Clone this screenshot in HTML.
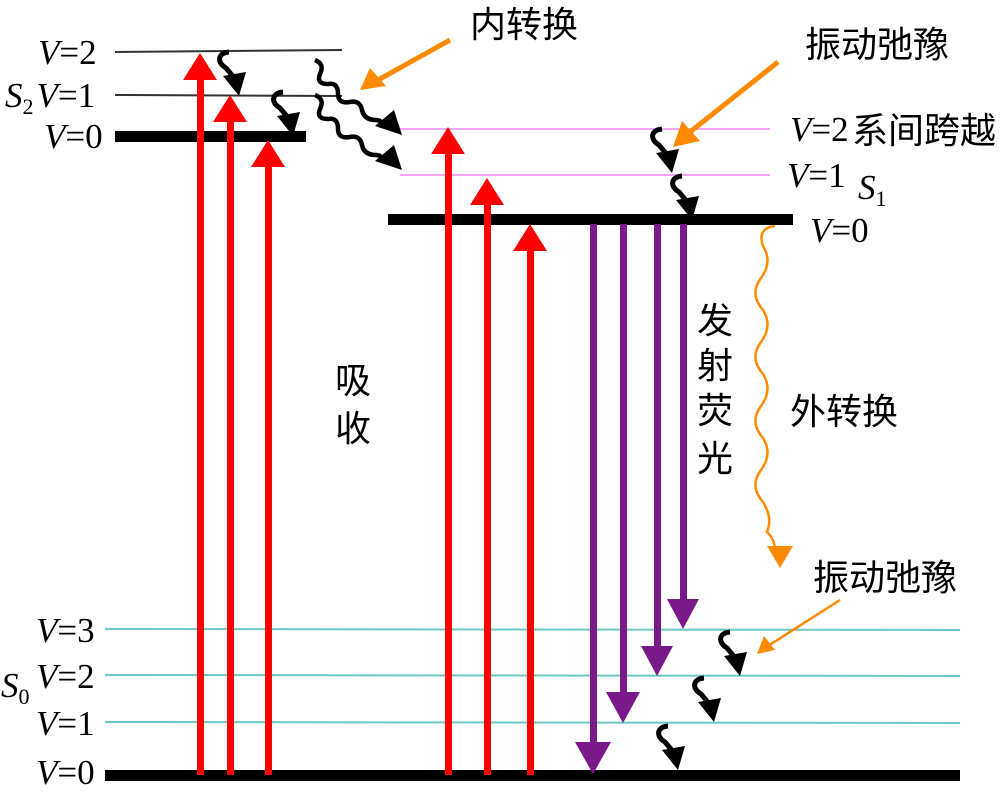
<!DOCTYPE html>
<html><head><meta charset="utf-8"><style>
html,body{margin:0;padding:0;background:#fff;}
svg{display:block;}
.v{font-family:"Liberation Serif",serif;font-size:35px;fill:#000;}
.c{font-family:"Liberation Sans","Noto Sans CJK SC",sans-serif;font-size:36px;fill:#000;}
</style></head><body>
<svg width="1000" height="796" viewBox="0 0 1000 796" xmlns="http://www.w3.org/2000/svg">
<defs>
<g id="sq">
<path d="M7,0 C-5,1 -5,11 4,16 L14,28" stroke="#000" stroke-width="5" fill="none"/>
<polygon points="1,24 24,20 17,44" fill="#000"/>
</g>
</defs>
<line x1="115" y1="52" x2="342" y2="50" stroke="#333" stroke-width="2"/>
<line x1="115" y1="95" x2="342" y2="96" stroke="#333" stroke-width="2"/>
<rect x="115" y="131" width="191" height="11" fill="#000"/>
<line x1="400" y1="129" x2="770" y2="129" stroke="#f4a6f4" stroke-width="2"/>
<line x1="400" y1="175" x2="770" y2="175" stroke="#f4a6f4" stroke-width="2"/>
<rect x="388" y="214" width="405" height="11" fill="#000"/>
<line x1="105" y1="629" x2="960" y2="630" stroke="#6cc8c4" stroke-width="2"/>
<line x1="105" y1="675" x2="960" y2="676" stroke="#6cc8c4" stroke-width="2"/>
<line x1="105" y1="722" x2="960" y2="723" stroke="#6cc8c4" stroke-width="2"/>
<rect x="105" y="770" width="855" height="11" fill="#000"/>
<g fill="#ff0000">
<rect x="197" y="75" width="7" height="700"/><polygon points="183,80 217,80 200,53"/>
<rect x="227" y="117" width="7" height="658"/><polygon points="213,122 247,122 230,95"/>
<rect x="265" y="162" width="7" height="613"/><polygon points="251,167 285,167 268,140"/>
<rect x="445" y="149" width="7" height="626"/><polygon points="431,154 465,154 448,127"/>
<rect x="484" y="200" width="7" height="575"/><polygon points="470,205 504,205 487,178"/>
<rect x="527" y="246" width="7" height="529"/><polygon points="513,251 547,251 530,224"/>
</g>
<g fill="#7a1a8a">
<rect x="590" y="224" width="7" height="520"/><polygon points="575,742 611,742 593,774"/>
<rect x="620" y="224" width="7" height="470"/><polygon points="606,692 640,692 623,723"/>
<rect x="654" y="224" width="7" height="424"/><polygon points="641,646 673,646 657,676"/>
<rect x="680" y="224" width="7" height="377"/><polygon points="667,599 699,599 683,629"/>
</g>
<use href="#sq" transform="translate(222,52)"/>
<use href="#sq" transform="translate(276,92)"/>
<use href="#sq" transform="translate(655,129)"/>
<use href="#sq" transform="translate(675,176)"/>
<use href="#sq" transform="translate(723,632)"/>
<use href="#sq" transform="translate(697,678)"/>
<use href="#sq" transform="translate(661,726)"/>
<g stroke="#000" stroke-width="4.5" fill="none">
<path d="M315,60 q10,4 5,14 q-4,10 8,10 q10,-2 10,10 q0,10 12,8 q10,-2 12,8 q2,10 14,10 q6,0 10,8"/>
<path d="M315,95 q10,4 5,14 q-4,10 8,10 q10,-2 10,10 q0,10 12,8 q10,-2 12,8 q2,10 14,10 q6,0 10,8"/>
</g>
<polygon points="375,126 394,110 402,135" fill="#000"/>
<polygon points="375,161 394,145 402,170" fill="#000"/>
<g stroke="#ff8a00" fill="#ff8a00">
<line x1="450" y1="40" x2="378" y2="80" stroke-width="5"/>
<polygon points="360,90 370,68 386,86" stroke="none"/>
<line x1="778" y1="62" x2="690" y2="132" stroke-width="5"/>
<polygon points="673,147 682,121 700,141" stroke="none"/>
<line x1="840" y1="600" x2="768" y2="646" stroke-width="2.5"/>
<polygon points="757,654 764,636 775,650" stroke="none"/>
</g>
<path d="M775,226 q-18,2 -12,20 q10,16 -2,32 q-12,16 2,32 q10,16 -2,32 q-12,16 2,32 q10,16 -2,32 q-12,16 2,32 q10,16 -2,32 q-12,16 2,32 q10,16 4,30 q8,8 8,18" stroke="#ff8a00" stroke-width="2.5" fill="none"/>
<polygon points="767,546 793,546 780,568" fill="#ff8a00"/>
<text class="v" x="38" y="64"><tspan font-style="italic">V</tspan>=2</text>
<text class="v" x="5" y="107"><tspan font-style="italic">S</tspan><tspan font-size="22" dy="7">2</tspan><tspan dy="-7" font-style="italic" dx="3">V</tspan>=1</text>
<text class="v" x="44" y="148"><tspan font-style="italic">V</tspan>=0</text>
<text class="v" x="790" y="141"><tspan font-style="italic">V</tspan>=2</text>
<text class="c" x="852" y="143">系间跨越</text>
<text class="v" x="787" y="187"><tspan font-style="italic">V</tspan>=1</text>
<text class="v" x="858" y="199"><tspan font-style="italic">S</tspan><tspan font-size="22" dy="7">1</tspan></text>
<text class="v" x="810" y="242"><tspan font-style="italic">V</tspan>=0</text>
<text class="v" x="36" y="642"><tspan font-style="italic">V</tspan>=3</text>
<text class="v" x="36" y="688"><tspan font-style="italic">V</tspan>=2</text>
<text class="v" x="1" y="697"><tspan font-style="italic">S</tspan><tspan font-size="22" dy="7">0</tspan></text>
<text class="v" x="36" y="735"><tspan font-style="italic">V</tspan>=1</text>
<text class="v" x="36" y="784"><tspan font-style="italic">V</tspan>=0</text>
<text class="c" x="470" y="37">内转换</text>
<text class="c" x="805" y="57">振动弛豫</text>
<text class="c" x="813" y="590">振动弛豫</text>
<text class="c" x="790" y="424">外转换</text>
<text class="c" x="335" y="393">吸</text>
<text class="c" x="335" y="441">收</text>
<text class="c" x="697" y="333">发</text>
<text class="c" x="697" y="378">射</text>
<text class="c" x="697" y="423">荧</text>
<text class="c" x="697" y="471">光</text>
</svg>
</body></html>
